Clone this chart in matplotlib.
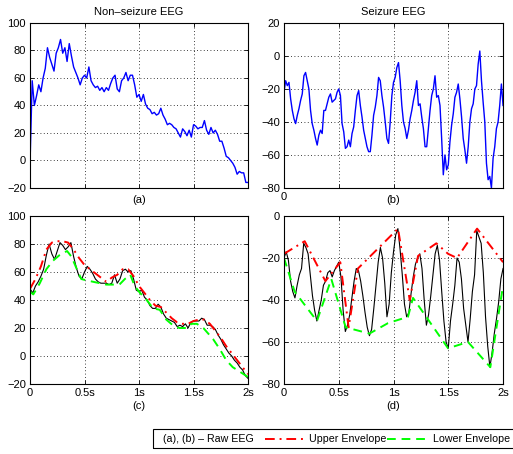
import numpy as np
import matplotlib
matplotlib.use("Agg")
import matplotlib.pyplot as plt
from matplotlib.lines import Line2D
from matplotlib.patches import Rectangle

plt.rcParams['font.family'] = ['Liberation Sans', 'DejaVu Sans']
plt.rcParams['font.size'] = 8

# (a) raw non-seizure EEG, 2 s
eeg_a = [-3, 58, 40, 47, 55, 50, 60, 67, 82, 75, 70, 65, 78, 82, 88, 78, 82, 72, 85, 76,
         68, 64, 60, 55, 60, 62, 60, 68, 58, 55, 53, 54, 51, 53, 50, 53, 51, 56, 60, 62,
         52, 50, 58, 60, 64, 58, 62, 62, 55, 46, 48, 43, 48, 41, 38, 37, 34, 35, 33, 34,
         38, 33, 30, 26, 27, 26, 24, 23, 20, 17, 23, 21, 18, 22, 17, 26, 25, 23, 24, 24,
         29, 22, 19, 24, 20, 22, 19, 14, 14, 9, 3, 2, 0, -2, -5, -10, -8, -9, -9, -16, -16]

# (b) raw seizure EEG, 2 s
eeg_b = [-22, -15, -18, -16, -26, -33, -38, -41, -36, -32, -27, -23, -12, -10, -15, -20,
         -33, -41, -45, -50, -54, -48, -45, -47, -33, -33, -29, -25, -23, -28, -27, -26,
         -22, -20, -24, -41, -46, -56, -55, -51, -55, -47, -43, -33, -24, -21, -30, -37,
         -45, -50, -55, -58, -58, -48, -36, -31, -24, -13, -15, -24, -31, -40, -50, -53,
         -40, -24, -16, -13, -7, -4, -15, -30, -40, -44, -50, -45, -38, -33, -27, -22,
         -15, -30, -29, -37, -44, -55, -55, -44, -33, -24, -20, -12, -25, -24, -30, -50,
         -72, -60, -69, -66, -52, -42, -35, -25, -22, -17, -26, -37, -50, -57, -65, -55,
         -40, -32, -29, -20, -18, -5, 3, -15, -28, -40, -65, -75, -73, -80, -62, -55,
         -44, -40, -30, -17, -30]

# (c) decimated non-seizure EEG and its envelopes
eeg_c = [48, 45, 50, 53, 57, 62, 72, 80, 73, 69, 75, 81, 79, 76, 78, 81, 71, 63, 57, 55,
         60, 64, 62, 59, 55, 53, 52, 52, 52, 51, 52, 58, 52, 55, 61, 62, 60, 61, 55, 47,
         46, 47, 42, 40, 36, 34, 34, 37, 35, 30, 27, 26, 25, 24, 21, 22, 21, 23, 20, 24,
         25, 25, 25, 27, 26, 22, 22, 21, 19, 15, 12, 8, 5, 2, 0, -3, -5, -8, -10, -14, -16]
upper_c = [48, 55, 64, 76, 81, 82, 82, 81, 76, 70, 65, 62, 59, 56, 53, 56, 58, 62, 62, 57,
           50, 45, 40, 36, 35, 31, 27, 24, 23, 23, 25, 26, 26, 23, 18, 13, 7, 2, -3, -8, -13]
lower_c_t = [0, 0.03, 0.09, 0.15, 0.21, 0.27, 0.34, 0.38, 0.43, 0.47, 0.52, 0.58, 0.64,
             0.70, 0.76, 0.82, 0.87, 0.92, 0.96, 1.01, 1.07, 1.13, 1.19, 1.25, 1.31, 1.37,
             1.44, 1.48, 1.53, 1.59, 1.68, 1.74, 1.80, 1.86, 1.92, 2.0]
lower_c = [46, 44, 52, 62, 68, 72, 75, 71, 62, 55, 54, 53, 52, 51, 51, 51, 55, 58, 50, 45,
           40, 34, 33, 26, 22, 20, 20, 23, 23, 20, 12, 5, -3, -8, -11, -15]

# (d) decimated seizure EEG and its envelopes
eeg_d = [-20, -17, -21, -31, -36, -39, -33, -28, -25, -13, -15, -18, -28, -38, -45, -50,
         -45, -40, -33, -31, -27, -26, -29, -26, -24, -22, -29, -45, -55, -52, -47, -39,
         -31, -25, -26, -31, -38, -46, -53, -57, -54, -44, -33, -22, -15, -20, -32, -48,
         -42, -27, -17, -9, -6, -16, -28, -42, -48, -46, -37, -29, -23, -20, -18, -25,
         -40, -52, -47, -38, -28, -18, -14, -21, -36, -50, -60, -63, -50, -42, -33, -20,
         -22, -30, -44, -52, -60, -49, -36, -28, -7, -10, -13, -27, -48, -62, -72, -65,
         -56, -49, -41, -30, -25]
upper_d_t = [0, 0.189, 0.378, 0.514, 0.59, 0.675, 1.041, 1.148, 1.224, 1.391, 1.498, 1.58,
             1.763, 2.0]
upper_d = [-18, -12, -31, -22, -53, -25, -6, -40, -19, -13, -18, -20, -6, -22]
lower_d_t = [0, 0.097, 0.301, 0.432, 0.563, 0.78, 0.95, 1.132, 1.178, 1.498, 1.68, 1.884, 2.0]
lower_d = [-20, -36, -50, -30, -53, -56, -51, -48, -39, -63, -60, -72, -33]

time_ticks = [0, 0.5, 1, 1.5, 2]
time_labels = ['0', '0.5s', '1s', '1.5s', '2s']

UPPER_LS = (0, (5, 2.5, 1, 2.5))
LOWER_LS = (0, (4.5, 3))
GREEN = (0, 1, 0)


def t_of(values):
    return np.linspace(0, 2, len(values))


def style(ax, ylim, step, xlabels, panel, label_y):
    ax.set_xlim(0, 2)
    ax.set_ylim(*ylim)
    ax.set_xticks(time_ticks)
    ax.set_xticklabels(xlabels)
    ax.set_yticks(np.arange(ylim[0], ylim[1] + 1, step))
    ax.tick_params(direction='in', top=True, right=True, length=3, width=0.6,
                   labelsize=8, pad=3)
    ax.grid(True, linestyle=(0, (1, 3)), color='k', linewidth=0.6)
    for s in ax.spines.values():
        s.set_linewidth(0.8)
    ax.set_xlabel(panel, fontsize=8)
    ax.xaxis.set_label_coords(0.5, label_y)


fig = plt.figure(figsize=(5.13, 4.54), dpi=100)
ax_a = fig.add_axes([0.0585, 0.586, 0.425, 0.3634])
ax_b = fig.add_axes([0.5536, 0.586, 0.427, 0.3634])
ax_c = fig.add_axes([0.0585, 0.1542, 0.425, 0.370])
ax_d = fig.add_axes([0.5536, 0.1542, 0.427, 0.370])

ax_a.plot(t_of(eeg_a), eeg_a, color='b', lw=1.0)
ax_a.set_title('Non\u2013seizure EEG', fontsize=8, pad=6)
style(ax_a, (-20, 100), 20, [''] * 5, '(a)', -0.04)

ax_b.plot(t_of(eeg_b), eeg_b, color='b', lw=1.0)
ax_b.set_title('Seizure EEG', fontsize=8, pad=6)
style(ax_b, (-80, 20), 20, ['0', '', '', '', ''], '(b)', -0.04)

ax_c.plot(t_of(eeg_c), eeg_c, color='k', lw=0.8)
ax_c.plot(t_of(upper_c), upper_c, color='r', lw=1.4, linestyle=UPPER_LS)
ax_c.plot(lower_c_t, lower_c, color=GREEN, lw=1.4, linestyle=LOWER_LS)
style(ax_c, (-20, 100), 20, time_labels, '(c)', -0.104)

ax_d.plot(t_of(eeg_d), eeg_d, color='k', lw=0.8)
ax_d.plot(upper_d_t, upper_d, color='r', lw=1.4, linestyle=UPPER_LS)
ax_d.plot(lower_d_t, lower_d, color=GREEN, lw=1.4, linestyle=LOWER_LS)
style(ax_d, (-80, 0), 20, time_labels, '(d)', -0.104)

# legend box along the bottom (runs off the right edge like the original)
yc = 1 - 438.5 / 454
fig.add_artist(Rectangle((153 / 513, 1 - 448 / 454), 380 / 513, 19 / 454,
                         transform=fig.transFigure, fill=False, edgecolor='k', lw=0.8))
fig.text(163 / 513, yc, '(a), (b) \u2013 Raw EEG', va='center', ha='left', fontsize=7.7)
fig.add_artist(Line2D([265 / 513, 304 / 513], [yc, yc], transform=fig.transFigure,
                      color='r', lw=1.4, linestyle=UPPER_LS))
fig.text(309 / 513, yc, 'Upper Envelope', va='center', ha='left', fontsize=7.7)
fig.add_artist(Line2D([387 / 513, 427 / 513], [yc, yc], transform=fig.transFigure,
                      color=GREEN, lw=1.4, linestyle=LOWER_LS))
fig.text(433 / 513, yc, 'Lower Envelope', va='center', ha='left', fontsize=7.7)

fig.savefig('out.png', dpi=100)
